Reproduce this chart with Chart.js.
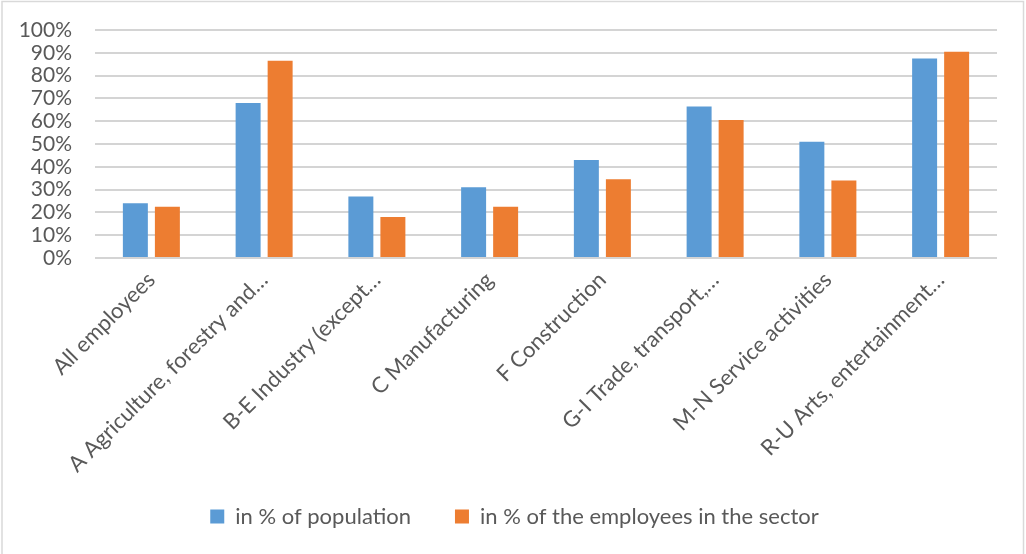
<!DOCTYPE html>
<html>
<head>
<meta charset="utf-8">
<script src="https://cdn.jsdelivr.net/npm/chart.js@4.4.0/dist/chart.umd.min.js"></script>
<style>
  html, body { margin: 0; padding: 0; background: #fff; }
  #wrap { width: 1026px; height: 554px; position: relative; }
</style>
</head>
<body>
<div id="wrap"><canvas id="chart"></canvas></div>
<script>
const categories = [
  'All employees',
  'A Agriculture, forestry and…',
  'B-E Industry (except…',
  'C Manufacturing',
  'F Construction',
  'G-I Trade, transport,…',
  'M-N Service activities',
  'R-U Arts, entertainment…'
];
const popShare = [24, 68, 27, 31, 43, 66.5, 51, 87.5];
const sectorShare = [22.5, 86.5, 18, 22.5, 34.5, 60.5, 34, 90.5];
const seriesNames = ['in % of population', 'in % of the employees in the sector'];

const textColor = '#595959';
const fontFamily = 'Lato, "Open Sans", sans-serif';

// light frame round the chart, like the office export
const framePlugin = {
  id: 'frame',
  beforeDraw(chart) {
    const ctx = chart.ctx;
    ctx.save();
    ctx.strokeStyle = '#d9d9d9';
    ctx.lineWidth = 1.5;
    ctx.strokeRect(2, 1.5, 1021.5, 570);
    ctx.restore();
  },
  afterLayout(chart) {
    // nudge legend so it sits where the reference has it
    if (chart.legend) {
      chart.legend.left += 16;
      chart.legend.right += 16;
    }
    // long rotated labels run past the axis box, so widen its clip
    chart.scales.x.bottom += 40;
  }
};

new Chart(document.getElementById('chart'), {
  type: 'bar',
  data: {
    labels: categories,
    datasets: [
      {
        label: seriesNames[0],
        data: popShare,
        backgroundColor: '#5b9bd5',
        categoryPercentage: 0.568,
        barPercentage: 0.78
      },
      {
        label: seriesNames[1],
        data: sectorShare,
        backgroundColor: '#ed7d31',
        categoryPercentage: 0.568,
        barPercentage: 0.78
      }
    ]
  },
  options: {
    responsive: true,
    maintainAspectRatio: false,
    animation: false,
    layout: {
      padding: { top: 30, right: 29, left: 0, bottom: 16.5 }
    },
    plugins: {
      legend: {
        position: 'bottom',
        labels: {
          boxWidth: 14,
          boxHeight: 14,
          padding: 44,
          color: textColor,
          font: { family: fontFamily, size: 22 }
        }
      },
      tooltip: { enabled: false }
    },
    scales: {
      x: {
        grid: { display: false, drawTicks: false },
        border: { display: false },
        ticks: {
          color: textColor,
          font: { family: fontFamily, size: 22 },
          maxRotation: 45,
          minRotation: 45,
          autoSkip: false,
          padding: 9
        },
        afterFit(scale) {
          scale.height = 203.5;
        }
      },
      y: {
        min: 0,
        max: 100,
        grid: { color: '#d4d4d4', lineWidth: 2, drawTicks: false },
        border: { display: false },
        ticks: {
          stepSize: 10,
          autoSkip: false,
          color: textColor,
          font: { family: fontFamily, size: 21 },
          padding: 23,
          callback: (v) => v + '%'
        },
        afterFit(scale) {
          scale.width = 95;
          scale.paddingTop = 0;
          scale.paddingBottom = 0;
        }
      }
    }
  },
  plugins: [framePlugin]
});
</script>
</body>
</html>
